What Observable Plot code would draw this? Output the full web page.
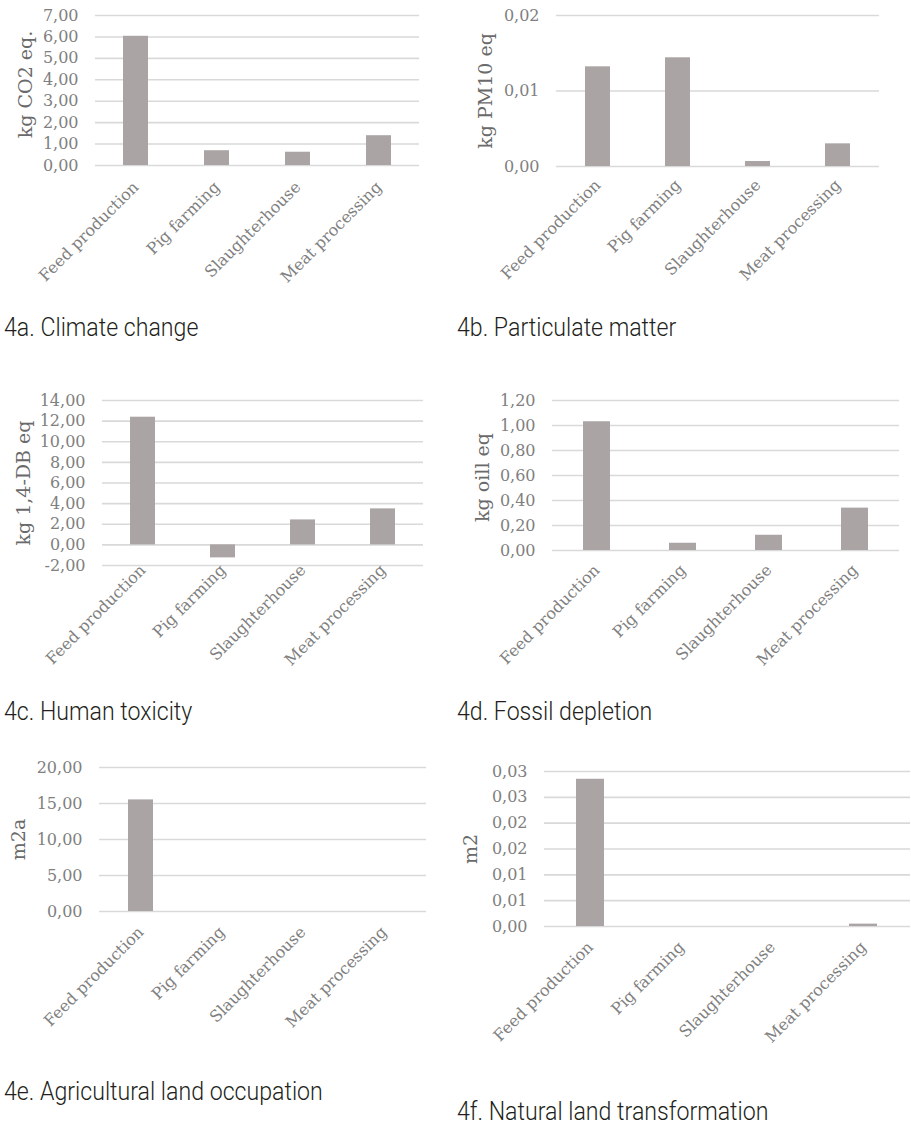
<!DOCTYPE html>
<html><head><meta charset="utf-8">
<script src="https://cdn.jsdelivr.net/npm/d3@7"></script>
<script src="https://cdn.jsdelivr.net/npm/@observablehq/plot@0.6"></script>
<style>
body{margin:0;background:#fff;}
#fig{position:relative;width:911px;height:1125px;overflow:hidden;background:#fff;}
.panel{position:absolute;}
.cap{position:absolute;font-family:Roboto,sans-serif;font-weight:300;font-size:26px;line-height:26px;color:#231f20;white-space:nowrap;transform:scaleX(0.89);transform-origin:0 0;}
</style></head><body><div id="fig"></div>
<script>
// ---- data ----
const stages = ["Feed production", "Pig farming", "Slaughterhouse", "Meat processing"];

const climateChange     = [6.03, 0.69, 0.62, 1.39];
const particulateMatter = [0.0132, 0.0144, 0.00066, 0.0030];
const humanToxicity     = [12.38, -1.26, 2.42, 3.49];
const fossilDepletion   = [1.03, 0.058, 0.122, 0.339];
const agriLandOccupation = [15.5, 0, 0, 0];
const naturalLandTransformation = [0.0285, 0, 0, 0.00046];

const ticksA = [0, 1, 2, 3, 4, 5, 6, 7];
const labelsA = ["0,00", "1,00", "2,00", "3,00", "4,00", "5,00", "6,00", "7,00"];
const ticksB = [0, 0.01, 0.02];
const labelsB = ["0,00", "0,01", "0,02"];
const ticksC = [-2, 0, 2, 4, 6, 8, 10, 12, 14];
const labelsC = ["-2,00", "0,00", "2,00", "4,00", "6,00", "8,00", "10,00", "12,00", "14,00"];
const ticksD = [0, 0.2, 0.4, 0.6, 0.8, 1.0, 1.2];
const labelsD = ["0,00", "0,20", "0,40", "0,60", "0,80", "1,00", "1,20"];
const ticksE = [0, 5, 10, 15, 20];
const labelsE = ["0,00", "5,00", "10,00", "15,00", "20,00"];
const ticksF = [0, 0.005, 0.01, 0.015, 0.02, 0.025, 0.03];
const labelsF = ["0,00", "0,01", "0,01", "0,02", "0,02", "0,03", "0,03"];

const unitLabels = ["kg CO2 eq.", "kg PM10 eq", "kg 1,4-DB eq", "kg oill eq", "m2a", "m2"];
const captions = ["4a. Climate change", "4b. Particulate matter", "4c. Human toxicity",
  "4d. Fossil depletion", "4e. Agricultural land occupation", "4f. Natural land transformation"];

// ---- layout ----
const panels = [
  {values: climateChange, ticks: ticksA, labels: labelsA, unit: unitLabels[0], cap: captions[0],
   left: 0, top: 0, width: 455, height: 300, mt: 15, mb: 135, ml: 95, mr: 36, ldx: -70, ldy: -6, xpad: 19, capTop: 314, capLeft: 4},
  {values: particulateMatter, ticks: ticksB, labels: labelsB, unit: unitLabels[1], cap: captions[1],
   left: 455, top: 0, width: 456, height: 300, mt: 15, mb: 134, ml: 101, mr: 32, ldx: -71, ldy: 0, xpad: 16, capTop: 314, capLeft: 457},
  {values: humanToxicity, ticks: ticksC, labels: labelsC, unit: unitLabels[2], cap: captions[2],
   left: 0, top: 380, width: 455, height: 300, mt: 20, mb: 115, ml: 102, mr: 32, ldx: -79, ldy: 0, xpad: 2, capTop: 698, capLeft: 4},
  {values: fossilDepletion, ticks: ticksD, labels: labelsD, unit: unitLabels[3], cap: captions[3],
   left: 455, top: 380, width: 456, height: 300, mt: 20, mb: 130, ml: 97, mr: 12, ldx: -70, ldy: 2, xpad: 17, capTop: 698, capLeft: 457},
  {values: agriLandOccupation, ticks: ticksE, labels: labelsE, unit: unitLabels[4], cap: captions[4],
   left: 0, top: 740, width: 455, height: 320, mt: 27, mb: 149, ml: 99, mr: 29, ldx: -81, ldy: 0, xpad: 18, capTop: 1078, capLeft: 4},
  {values: naturalLandTransformation, ticks: ticksF, labels: labelsF, unit: unitLabels[5], cap: captions[5],
   left: 455, top: 740, width: 456, height: 340, mt: 31, mb: 154, ml: 89, mr: 1, ldx: -74, ldy: 0, xpad: 18, capTop: 1098, capLeft: 457}
];

const fig = document.getElementById("fig");

for (const p of panels) {
  const rows = stages.map((s, i) => ({stage: s, value: p.values[i]}));
  const fmt = new Map(p.ticks.map((t, i) => [t, p.labels[i]]));
  const chart = Plot.plot({
    width: p.width,
    height: p.height,
    marginTop: p.mt, marginBottom: p.mb, marginLeft: p.ml, marginRight: p.mr,
    style: {fontFamily: "'DejaVu Serif', serif", fontSize: "16px", color: "#808080", background: "transparent"},
    x: {domain: stages, paddingInner: 0.69, paddingOuter: 0.345, label: null},
    y: {domain: [p.ticks[0], p.ticks[p.ticks.length - 1]], label: null},
    marks: [
      Plot.ruleY(p.ticks, {stroke: "#d9d9d9", strokeWidth: 1.6}),
      Plot.barY(rows, {x: "stage", y: "value", fill: "#aba4a4"}),
      Plot.axisY({ticks: p.ticks, tickFormat: d => fmt.get(d), tickSize: 0, tickPadding: 17, label: null}),
      Plot.axisX({tickRotate: -45, tickSize: 0, tickPadding: p.xpad, label: null}),
      Plot.text([p.unit], {frameAnchor: "left", dx: p.ldx, dy: p.ldy, rotate: -90, text: d => d,
        textAnchor: "middle", lineAnchor: "middle", fontSize: 19, fill: "#6a6a6a"})
    ]
  });
  const div = document.createElement("div");
  div.className = "panel";
  div.style.left = p.left + "px";
  div.style.top = p.top + "px";
  div.appendChild(chart);
  fig.appendChild(div);

  const cap = document.createElement("div");
  cap.className = "cap";
  cap.style.left = p.capLeft + "px";
  cap.style.top = p.capTop + "px";
  cap.textContent = p.cap;
  fig.appendChild(cap);
}
</script>
</body></html>
